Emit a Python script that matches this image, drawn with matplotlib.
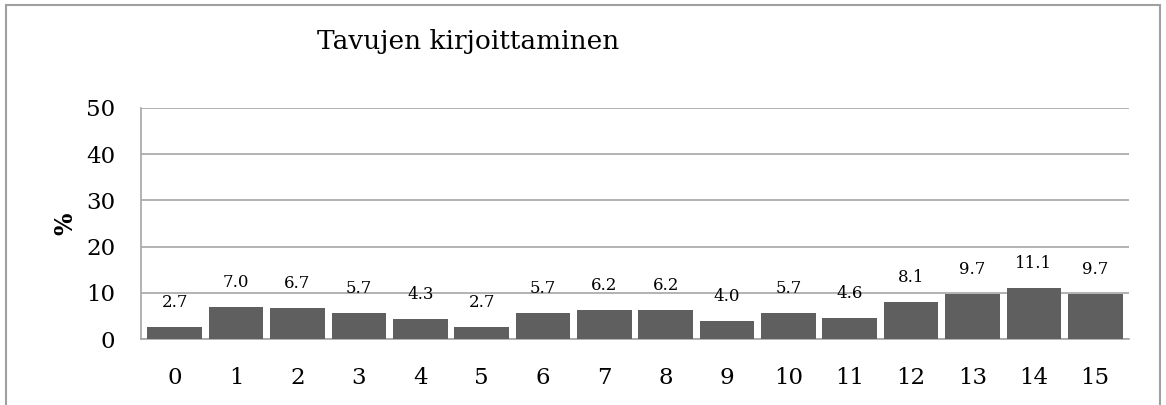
import matplotlib.pyplot as plt
from matplotlib.patches import Rectangle
import numpy as np

plt.rcParams['font.family'] = ['DejaVu Serif']

categories = [str(i) for i in range(16)]
values = [2.7, 7.0, 6.7, 5.7, 4.3, 2.7, 5.7, 6.2, 6.2, 4.0, 5.7, 4.6, 8.1, 9.7, 11.1, 9.7]
title = 'Tavujen kirjoittaminen'

W, H = 1166, 405
fig = plt.figure(figsize=(W / 100, H / 100), dpi=100)
ax = fig.add_axes([141 / W, 1 - 339 / H, (1129 - 141) / W, (339 - 108) / H])

x = np.arange(len(values))
ax.bar(x, values, width=0.89, color='#5f5f5f', zorder=3)
for xi, v in zip(x, values):
    ax.text(xi, v + 5.3, f'{v:.1f}', ha='center', va='center', fontsize=12, zorder=4)

ax.set_xlim(-0.55, len(values) - 0.45)
ax.set_ylim(0, 50)
ax.set_yticks(range(0, 51, 10))
ax.set_xticks(x)
ax.set_xticklabels(categories)
ax.grid(axis='y', color='#a6a6a6', linewidth=1.2, zorder=0)
for s in ['top', 'right']:
    ax.spines[s].set_visible(False)
for s in ['left', 'bottom']:
    ax.spines[s].set_color('#a6a6a6')
    ax.spines[s].set_linewidth(1.2)
ax.tick_params(length=0, labelsize=16.5)
ax.tick_params(axis='x', pad=20.5)
ax.tick_params(axis='y', pad=18.5)
ax.set_ylabel('%', fontsize=17, fontweight='bold', labelpad=6)

fig.text(468 / W, 1 - 42 / H, title, ha='center', va='center', fontsize=19)
fig.patches.append(Rectangle((6 / W, -0.1), (1160 - 6) / W, 1.1 - 5 / H,
                             transform=fig.transFigure, fill=False,
                             edgecolor='#a0a0a0', linewidth=1.5))

fig.savefig('out.png', dpi=100)
